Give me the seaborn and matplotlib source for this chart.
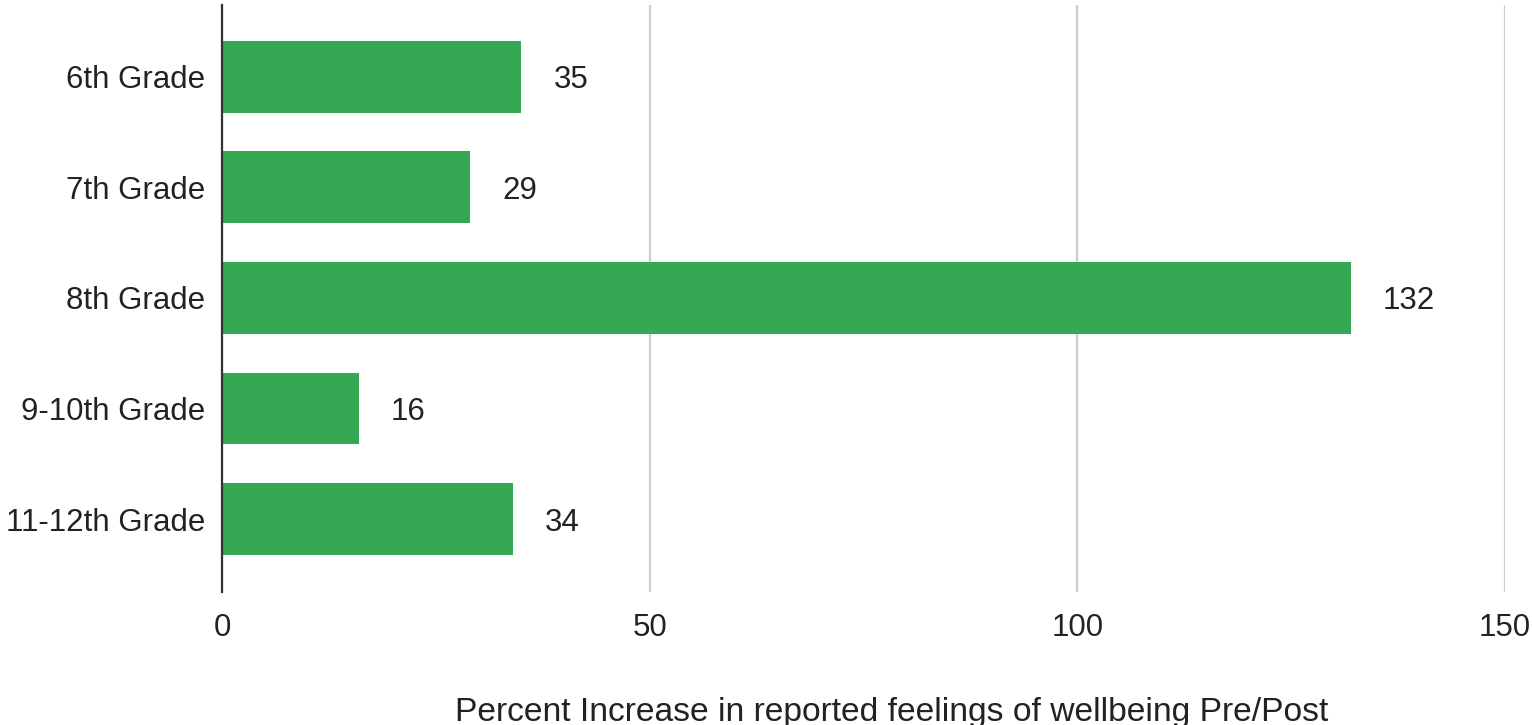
import matplotlib
matplotlib.use("Agg")
import matplotlib.pyplot as plt
import seaborn as sns
import pandas as pd

categories = ["6th Grade", "7th Grade", "8th Grade", "9-10th Grade", "11-12th Grade"]
values = [35, 29, 132, 16, 34]
x_ticks = [0, 50, 100, 150]
x_label = "Percent Increase in reported feelings of wellbeing Pre/Post"

sns.set_theme(style="white")
plt.rcParams['font.family'] = ['Liberation Sans', 'DejaVu Sans']

df = pd.DataFrame({"grade": categories, "value": values})

fig = plt.figure(figsize=(15.32, 7.25), dpi=100)
ax = fig.add_axes([222/1532, 1-592/725, (1505-222)/1532, (592-5)/725])

sns.barplot(data=df, y="grade", x="value", color="#34a853", saturation=1,
            width=0.65, ax=ax, orient="h", edgecolor="none")

ax.set_xlim(0, 150)
ax.set_ylim(4.66, -0.65)
ax.set_xticks(x_ticks)
ax.set_xticklabels([str(t) for t in x_ticks])
ax.xaxis.grid(True, color="#cccccc", linewidth=1.6)
ax.set_axisbelow(True)
for s in ["top", "right", "bottom"]:
    ax.spines[s].set_visible(False)
ax.spines["left"].set_color("#333333")
ax.spines["left"].set_linewidth(1.6)
ax.spines["left"].set_zorder(5)

fs = 22.5
ax.tick_params(axis="both", length=0, labelsize=fs, colors="#222222")
ax.tick_params(axis="x", pad=15)
ax.tick_params(axis="y", pad=12)
ax.set_ylabel("")
ax.set_xlabel(x_label, fontsize=24.2, color="#222222")
ax.xaxis.set_label_coords((892-222)/(1505-222), -(697-592)/587)

for c in ax.containers:
    texts = ax.bar_label(c, labels=[str(v) for v in values], padding=23, fontsize=fs, color="#222222")
    for t in texts:
        t.set_va("center_baseline")

fig.savefig("out.png", dpi=100)
